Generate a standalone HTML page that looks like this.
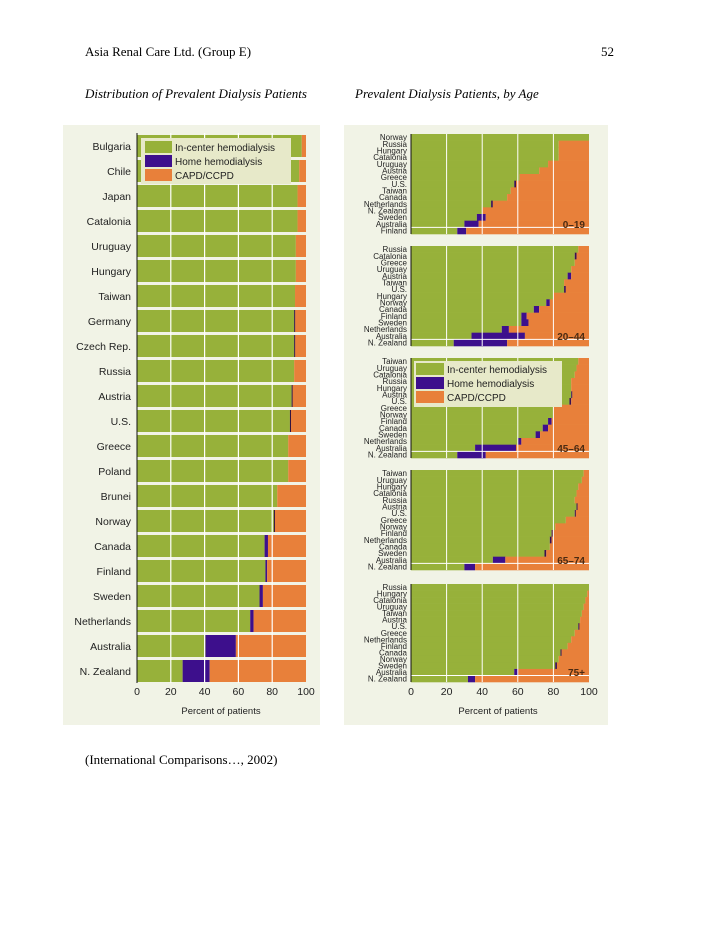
<!DOCTYPE html>
<html><head><meta charset="utf-8"><style>
body{margin:0;background:#fff;}
svg{display:block;font-family:"Liberation Sans",sans-serif;}
</style></head><body>
<svg id="pg" width="728" height="942" viewBox="0 0 728 942" xmlns="http://www.w3.org/2000/svg">
<text x="85" y="56" font-family="Liberation Serif" font-size="13">Asia Renal Care Ltd. (Group E)</text>
<text x="614" y="56" font-family="Liberation Serif" font-size="13" text-anchor="end">52</text>
<text x="85" y="98" font-family="Liberation Serif" font-size="13" font-style="italic">Distribution of Prevalent Dialysis Patients</text>
<text x="355" y="98" font-family="Liberation Serif" font-size="13" font-style="italic">Prevalent Dialysis Patients, by Age</text>
<text x="85" y="764" font-family="Liberation Serif" font-size="13">(International Comparisons…, 2002)</text>
<rect x="63" y="125" width="257" height="600" fill="#f1f3e6"/>
<rect x="344" y="125" width="264" height="600" fill="#f1f3e6"/>
<g id="left"></g>
<g id="right"></g>
</svg>
<script>
// Left chart data
const countries=["Bulgaria","Chile","Japan","Catalonia","Uruguay","Hungary","Taiwan","Germany","Czech Rep.","Russia","Austria","U.S.","Greece","Poland","Brunei","Norway","Canada","Finland","Sweden","Netherlands","Australia","N. Zealand"];
const ihdValues=[97.5,96,95,95,94,94,93.5,93,93,93,91.5,90.5,89.5,89.5,83,81,75.5,76,72.5,67,40.5,27];
const homeValues=[0,0,0,0,0,0,0,0.6,0.6,0,0.6,0.6,0,0,0,0.6,2,1,2,2,18,16];
const tickValues=[0,20,40,60,80,100];
const tickLabels=["0","20","40","60","80","100"];

// Right chart data
const ageGroups=["0-19","20-44","45-64","65-74","75+"];
const ageLabels0=["Norway","Russia","Hungary","Catalonia","Uruguay","Austria","Greece","U.S.","Taiwan","Canada","Netherlands","N. Zealand","Sweden","Australia","Finland"];
const ageIhd0=[100,83,83,83,77,72,61,58,56,54,45,40,37,30,26];
const ageHome0=[0,0,0,0,0,0,0,1,0,0,1,0,5,8,5];
const ageLabels1=["Russia","Catalonia","Greece","Uruguay","Austria","Taiwan","U.S.","Hungary","Norway","Canada","Finland","Sweden","Netherlands","Australia","N. Zealand"];
const ageIhd1=[94,92,92,90,88,86,86,80,76,69,62,62,51,34,24];
const ageHome1=[0,1,0,0,2,0,1,0,2,3,3,4,4,30,30];
const ageLabels2=["Taiwan","Uruguay","Catalonia","Russia","Hungary","Austria","U.S.","Greece","Norway","Finland","Canada","Sweden","Netherlands","Australia","N. Zealand"];
const ageIhd2=[94,93,92,90,90,90,89,80,80,77,74,70,60,36,26];
const ageHome2=[0,0,0,0,0,0.6,1,0,0,2,3,2.5,2,23,16];
const ageLabels3=["Taiwan","Uruguay","Hungary","Catalonia","Russia","Austria","U.S.","Greece","Norway","Finland","Netherlands","Canada","Sweden","Australia","N. Zealand"];
const ageIhd3=[97,96,94,93,92,93,92,87,81,79,78,78,75,46,30];
const ageHome3=[0,0,0,0,0,0.6,0.6,0,0,0.6,1,0,1,7,6];
const ageLabels4=["Russia","Hungary","Catalonia","Uruguay","Taiwan","Austria","U.S.","Greece","Netherlands","Finland","Canada","Norway","Sweden","Australia","N. Zealand"];
const ageIhd4=[100,99,98,97,96,95,94,92,90,88,84,83,81,58,32];
const ageHome4=[0,0,0,0,0,0,0.6,0,0,0,0.6,0,1,2,4];

const GREEN="#97b13a",PURPLE="#3d0f8c",ORANGE="#e8803a";
const NS="http://www.w3.org/2000/svg";
function mk(parent,tag,attrs,text){const e=document.createElementNS(NS,tag);for(const k in attrs)e.setAttribute(k,attrs[k]);if(text!==undefined)e.textContent=text;parent.appendChild(e);return e;}

// Left chart
const L=document.getElementById('left');
const lx0=137,lx1=306;
const lxs=v=>lx0+(lx1-lx0)*v/100;
const ly=i=>135+i*25;
countries.forEach((c,i)=>{
  const y=ly(i),h=22,ihd=ihdValues[i],home=homeValues[i];
  const r1=mk(L,'rect',{x:lxs(0),y:y,width:lxs(ihd)-lxs(0),height:h,fill:GREEN});
  
  
  const r2=mk(L,'rect',{x:lxs(ihd),y:y,width:Math.max(lxs(ihd+home)-lxs(ihd),home>0?1.2:0),height:h,fill:home<1?'#2a1040':PURPLE});
  
  
  const r3=mk(L,'rect',{x:lxs(ihd+home),y:y,width:lxs(100)-lxs(ihd+home),height:h,fill:ORANGE});
  
  
  const t=mk(L,'text',{x:131,y:y+15,'font-size':10.5,'text-anchor':'end',fill:'#222'},c);
  
  
});
[20,40,60,80].forEach(v=>{
  const g=mk(L,'line',{x1:lxs(v),x2:lxs(v),y1:133,y2:683,stroke:'#fff','stroke-width':1.2});
  
  
});
const la=mk(L,'line',{x1:lx0,x2:lx0,y1:133,y2:683,stroke:'#111','stroke-width':1});


tickValues.forEach((v,i)=>{
  const t=mk(L,'text',{x:lxs(v),y:695,'font-size':10.5,'text-anchor':'middle',fill:'#222'},tickLabels[i]);
  
  
});
const lxt=mk(L,'text',{x:221,y:714,'font-size':9.5,'text-anchor':'middle',fill:'#222'},'Percent of patients');


// left legend
const lg=mk(L,'g',{});


mk(lg,'rect',{x:141,y:138,width:150,height:46,fill:'#e7e9c9'});
[["In-center hemodialysis",GREEN],["Home hemodialysis",PURPLE],["CAPD/CCPD",ORANGE]].forEach((d,i)=>{
  const r=mk(lg,'rect',{x:145,y:141+i*14,width:27,height:12,fill:d[1]});
  
  
  const t=mk(lg,'text',{x:175,y:151+i*14,'font-size':10,fill:'#222'},d[0]);
  
  
});

// Right chart
const R=document.getElementById('right');
const rx0=411,rx1=589;
const rxs=v=>rx0+(rx1-rx0)*v/100;
const panelTops=[134,246,358,470,584];
const panelBottoms=[234,346,458,570,682];
const allLabels=[ageLabels0,ageLabels1,ageLabels2,ageLabels3,ageLabels4];
const allIhd=[ageIhd0,ageIhd1,ageIhd2,ageIhd3,ageIhd4];
const allHome=[ageHome0,ageHome1,ageHome2,ageHome3,ageHome4];
ageGroups.forEach((ag,p)=>{
  const g=mk(R,'g',{});
  
  
  const top=panelTops[p],bot=panelBottoms[p],n=allLabels[p].length,h=(bot-top)/n;
  allLabels[p].forEach((lab,i)=>{
    const y=top+i*h,ihd=allIhd[p][i],home=allHome[p][i];
    const a=mk(g,'rect',{x:rxs(0),y:y,width:rxs(ihd)-rxs(0),height:h+0.3,fill:GREEN});
    
    
    const b=mk(g,'rect',{x:rxs(ihd),y:y,width:Math.max(rxs(ihd+home)-rxs(ihd),home>0?1.2:0),height:h+0.3,fill:home<1.5?'#3a1050':PURPLE});
    
    
    const c=mk(g,'rect',{x:rxs(ihd+home),y:y,width:Math.max(0,rxs(100)-rxs(ihd+home)),height:h+0.3,fill:ORANGE});
    
    
    const t=mk(g,'text',{x:407,y:y+h-0.5,'font-size':8,'text-anchor':'end',fill:'#222'},lab);
    
    
  });
  [20,40,60,80].forEach(v=>{
    const l=mk(g,'line',{x1:rxs(v),x2:rxs(v),y1:top,y2:bot,stroke:'#fff','stroke-width':1});
    
    
  });
  const hl=mk(g,'line',{x1:rx0,x2:rx1,y1:bot-h,y2:bot-h,stroke:'#fff','stroke-width':1});
  
  
  const ax=mk(g,'line',{x1:rx0,x2:rx0,y1:top,y2:bot,stroke:'#111','stroke-width':1});
  
  
  const at=mk(g,'text',{x:585,y:bot-6,'font-size':10,'font-weight':'bold','text-anchor':'end',fill:'#4a2a12'},ag.replace('-','–'));
  
  
});
tickValues.forEach((v,i)=>{
  const t=mk(R,'text',{x:rxs(v),y:695,'font-size':10.5,'text-anchor':'middle',fill:'#222'},tickLabels[i]);
  
  
});
const rxt=mk(R,'text',{x:498,y:714,'font-size':9.5,'text-anchor':'middle',fill:'#222'},'Percent of patients');


const rg=mk(R,'g',{});


mk(rg,'rect',{x:414,y:361,width:148,height:46,fill:'#e7e9c9'});
[["In-center hemodialysis",GREEN],["Home hemodialysis",PURPLE],["CAPD/CCPD",ORANGE]].forEach((d,i)=>{
  const r=mk(rg,'rect',{x:416,y:363+i*14,width:28,height:12,fill:d[1]});
  
  
  const t=mk(rg,'text',{x:447,y:373+i*14,'font-size':10,fill:'#222'},d[0]);
  
  
});
</script>
</body></html>
